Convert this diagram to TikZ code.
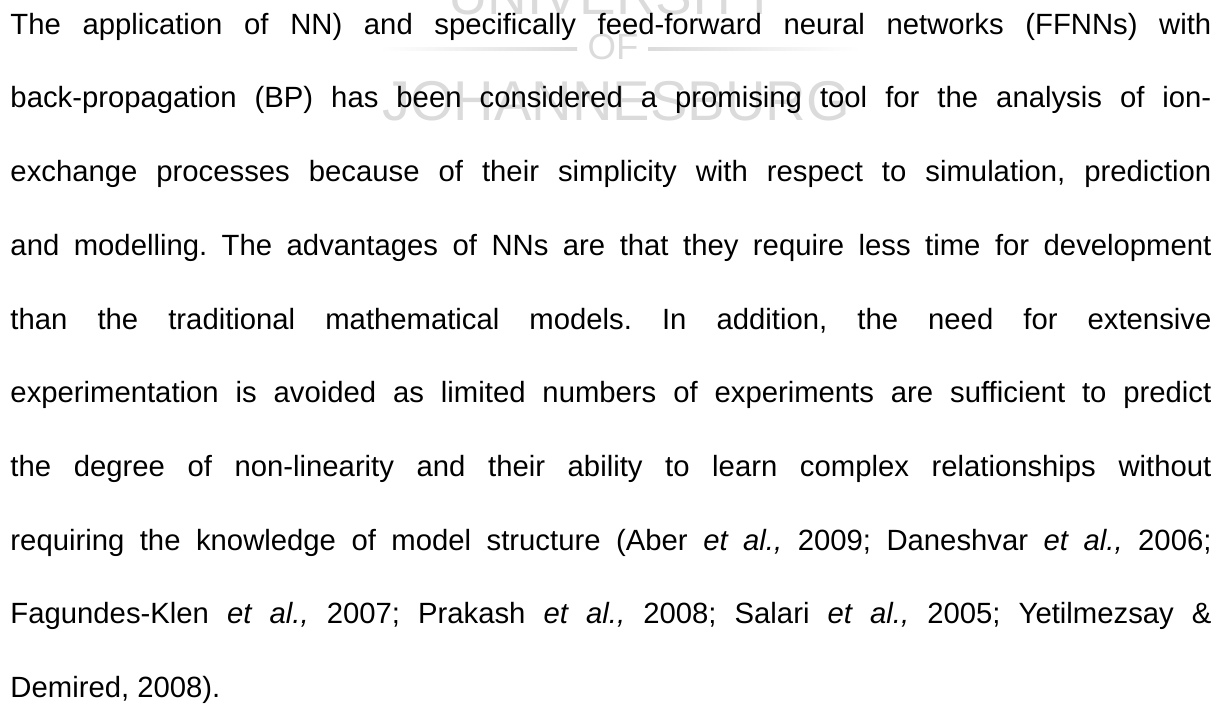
\documentclass[tikz,border=0pt]{standalone}
\usepackage{fontspec}
\setmainfont{Liberation Sans}
\newlength\linew
\setlength\linew{492.4pt}
\frenchspacing
\begin{document}
\begin{tikzpicture}[x=0.41pt,y=-0.41pt,
	textline/.style={anchor=base west, inner sep=0pt, font=\fontsize{12}{14}\selectfont},
	wmark/.style={anchor=base, inner sep=0pt, text=black!14}]
	\useasboundingbox (0,0) rectangle (1218,704);
	% Watermark
	\node[wmark, font=\fontsize{22.5}{24}\selectfont] (univ) at (613,15) {UNIVERSITY};
	\node[wmark, font=\fontsize{15}{17}\selectfont] (of) at (613,60) {OF};
	\node[wmark, font=\fontsize{23}{25}\selectfont] (joburg) at (616,121) {JOHANNESBURG};
	\shade[left color=white, right color=black!14] (380,47.5) rectangle (577,50.5);
	\shade[left color=black!14, right color=white] (648,47.5) rectangle (860,50.5);
	% Paragraph
	\node[textline] (l1) at (10,34.3) {\makebox[\linew][s]{The application of NN) and specifically feed-forward neural networks (FFNNs) with}};
	\node[textline] (l2) at (10,108.0) {\makebox[\linew][s]{back-propagation (BP) has been considered a promising tool for the analysis of ion-}};
	\node[textline] (l3) at (10,181.7) {\makebox[\linew][s]{exchange processes because of their simplicity with respect to simulation, prediction}};
	\node[textline] (l4) at (10,255.4) {\makebox[\linew][s]{and modelling. The advantages of NNs are that they require less time for development}};
	\node[textline] (l5) at (10,329.1) {\makebox[\linew][s]{than the traditional mathematical models. In addition, the need for extensive}};
	\node[textline] (l6) at (10,402.8) {\makebox[\linew][s]{experimentation is avoided as limited numbers of experiments are sufficient to predict}};
	\node[textline] (l7) at (10,476.5) {\makebox[\linew][s]{the degree of non-linearity and their ability to learn complex relationships without}};
	\node[textline] (l8) at (10,550.2) {\makebox[\linew][s]{requiring the knowledge of model structure (Aber \textit{et al.,} 2009; Daneshvar \textit{et al.,} 2006;}};
	\node[textline] (l9) at (10,623.9) {\makebox[\linew][s]{Fagundes-Klen \textit{et al.,} 2007; Prakash \textit{et al.,} 2008; Salari \textit{et al.,} 2005; Yetilmezsay \&}};
	\node[textline] (l10) at (10,697.6) {Demired, 2008).};
\end{tikzpicture}
\end{document}
